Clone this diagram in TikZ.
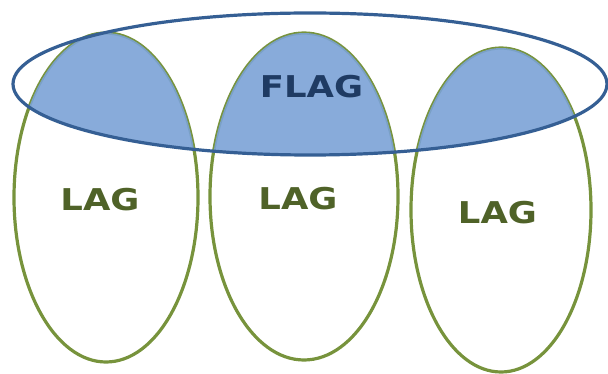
\documentclass[tikz,border=0pt]{standalone}
\usepackage{fontspec}
\newfontfamily\lblfont{DejaVu Sans}[BoldFont={DejaVu Sans Bold}]
\definecolor{lagline}{HTML}{77933C}
\definecolor{flagline}{HTML}{355F94}
\definecolor{flagfill}{HTML}{7BA2D6}
\definecolor{flagtext}{HTML}{1F3B63}
\definecolor{lagtext}{HTML}{4F6228}
\tikzset{
  lagell/.style={draw=lagline, line width=3.2pt},
  flagell/.style={draw=flagline, line width=3.2pt},
  lbl/.style={font=\lblfont\bfseries\fontsize{30}{30}\selectfont, xscale=1.18, inner sep=0pt},
}
\begin{document}
\begin{tikzpicture}[x=1pt,y=-1pt]
\useasboundingbox (0,0) rectangle (608,374);
% green ellipses
\draw[lagell] (106,197.5) ellipse [x radius=92, y radius=164.5];
\draw[lagell] (304,196.5) ellipse [x radius=94, y radius=163.5];
\draw[lagell] (501,210) ellipse [x radius=90, y radius=162];
% intersection fills
\begin{scope}
  \clip (310,84) ellipse [x radius=297, y radius=71];
  \fill[flagfill, opacity=0.9] (106,197.5) ellipse [x radius=92, y radius=164.5];
  \fill[flagfill, opacity=0.9] (304,196.5) ellipse [x radius=94, y radius=163.5];
  \fill[flagfill, opacity=0.9] (501,210) ellipse [x radius=90, y radius=162];
\end{scope}
% blue ellipse
\draw[flagell] (310,84) ellipse [x radius=297, y radius=71];
% labels
\node[lbl, text=flagtext] (flag) at (311.5,87) {FLAG};
\node[lbl, text=lagtext] (lag1) at (100,199.5) {LAG};
\node[lbl, text=lagtext] (lag2) at (298,199) {LAG};
\node[lbl, text=lagtext] (lag3) at (497.5,212.5) {LAG};
\end{tikzpicture}
\end{document}
